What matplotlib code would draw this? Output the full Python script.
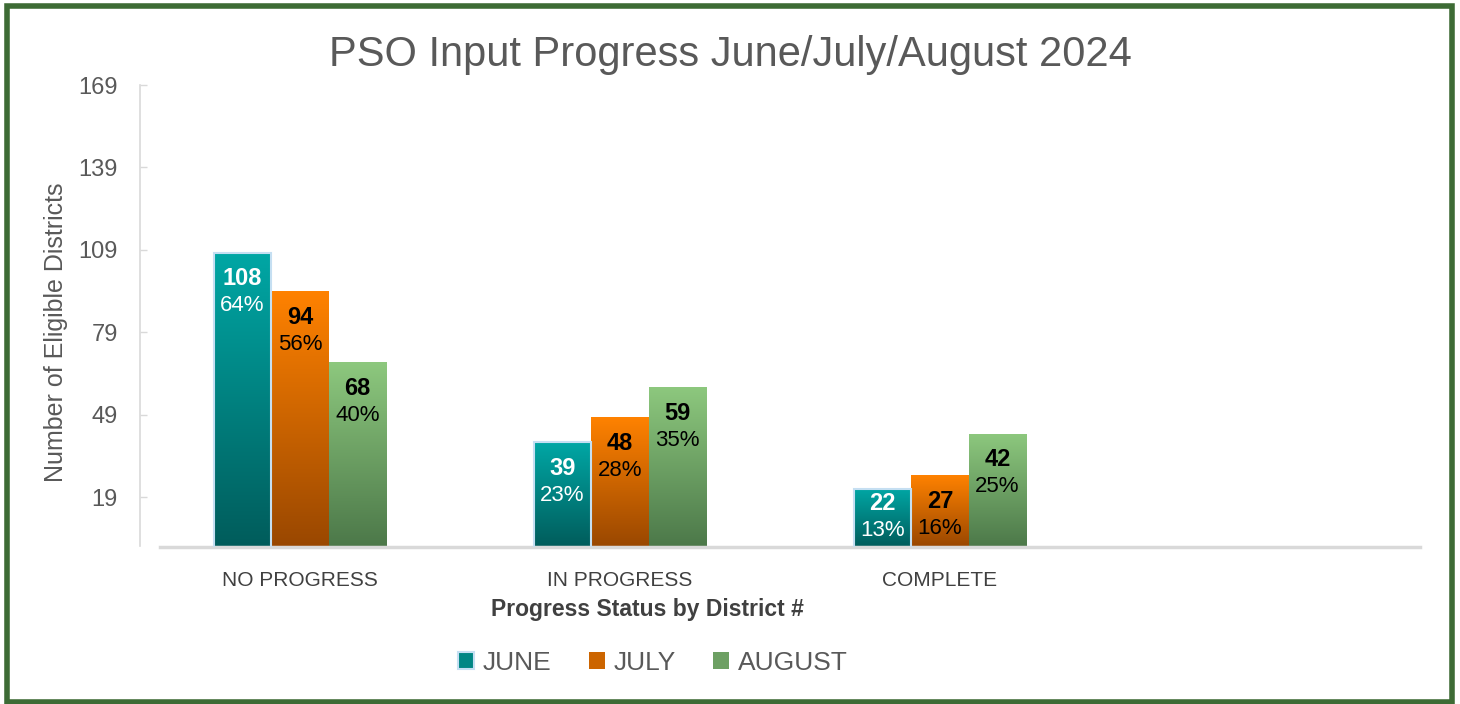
import matplotlib
matplotlib.use("Agg")
import matplotlib.pyplot as plt
import numpy as np
from matplotlib.colors import LinearSegmentedColormap
from matplotlib.patches import Rectangle, Patch

categories = ["NO PROGRESS", "IN PROGRESS", "COMPLETE", ""]
months = ["JUNE", "JULY", "AUGUST"]
june = [108, 39, 22]
july = [94, 48, 27]
august = [68, 59, 42]
june_pct = ["64%", "23%", "13%"]
july_pct = ["56%", "28%", "16%"]
august_pct = ["40%", "35%", "25%"]
yticks = [19, 49, 79, 109, 139, 169]

series = [june, july, august]
pcts = [june_pct, july_pct, august_pct]
# gradient colours, top -> bottom
grads = [("#00a7a5", "#005c5b"), ("#ff8200", "#994700"), ("#8dc87e", "#4c7849")]
mids = ["#008684", "#cc6500", "#6da063"]
label_colors = ["white", "black", "black"]

plt.rcParams['font.family'] = ['Liberation Sans', 'DejaVu Sans']
gray = "#595959"

fig = plt.figure(figsize=(14.6, 7.04), dpi=100)
ax = fig.add_axes([160 / 1460, 157 / 704, 1260 / 1460, 462 / 704])

width = 0.18
x = np.arange(len(categories))
ymin, ymax = 0.8, 169
ax.set_xlim(-0.4375, 3.5)
ax.set_ylim(ymin, ymax)
px_per_unit = 462 / (ymax - ymin)

for i, vals in enumerate(series):
    xs = x[:len(vals)] + (i - 1) * width
    bars = ax.bar(xs, vals, width, color="none",
                  edgecolor="#c5dff2" if i == 0 else "none",
                  linewidth=1.5 if i == 0 else 0, zorder=3)
    cmap = LinearSegmentedColormap.from_list("g%d" % i, [grads[i][1], grads[i][0]])
    for b, v, p in zip(bars, vals, pcts[i]):
        x0 = b.get_x()
        grad = np.linspace(0, 1, 256).reshape(-1, 1)
        im = ax.imshow(grad, cmap=cmap, origin="lower", aspect="auto",
                       extent=[x0, x0 + width, ymin, v], zorder=2)
        im.set_clip_path(b)
        cx = x0 + width / 2
        # keep both labels inside short bars
        h_px = (v - ymin) * px_per_unit
        pct_off = min(53, h_px - 17)
        val_off = pct_off - 27
        ax.annotate(str(v), (cx, v), xytext=(0, -val_off * 0.72), textcoords="offset points",
                    ha="center", va="center", fontsize=17, fontweight="bold",
                    color=label_colors[i], zorder=4)
        ax.annotate(p, (cx, v), xytext=(0, -pct_off * 0.72), textcoords="offset points",
                    ha="center", va="center", fontsize=16,
                    color=label_colors[i], zorder=4)

ax.set_xlim(-0.4375, 3.5)
ax.set_ylim(ymin, ymax)

for s in ["top", "right"]:
    ax.spines[s].set_visible(False)
ax.spines["left"].set_position(("outward", 14.4))
ax.spines["left"].set_color("#d9d9d9")
ax.spines["left"].set_linewidth(1.2)
ax.spines["left"].set_bounds(ymin + 0.5, ymax)
ax.spines["bottom"].set_color("#d9d9d9")
ax.spines["bottom"].set_linewidth(2.5)

ax.set_yticks(yticks)
ax.set_yticklabels([str(t) for t in yticks])
ax.tick_params(axis="y", direction="in", length=5, width=1, color="#d9d9d9",
               labelsize=17, labelcolor=gray, pad=16)
ax.set_xticks(x)
ax.set_xticklabels(categories)
ax.tick_params(axis="x", length=0, labelsize=15, labelcolor="#404040", pad=17)
ax.set_ylabel("Number of Eligible Districts", fontsize=18, color=gray)
ax.yaxis.set_label_coords(-0.073, 0.465)
ax.set_xlabel("Progress Status by District #", fontsize=16.5, color="#404040",
              fontweight="bold")
ax.xaxis.set_label_coords(0.387, -0.11)

fig.suptitle("PSO Input Progress June/July/August 2024", fontsize=30, color=gray,
             y=1 - 55 / 704, va="center")

handles = [Patch(facecolor=mids[i], edgecolor="#c5dff2" if i == 0 else mids[i],
                 linewidth=1.5 if i == 0 else 0) for i in range(3)]
fig.legend(handles, months, loc="center", bbox_to_anchor=(653 / 1460, 1 - 663 / 704),
           ncol=3, frameon=False, fontsize=19, labelcolor=gray,
           handlelength=0.6, handleheight=0.6, handletextpad=0.35, columnspacing=1.4)

fig.patches.append(Rectangle((7 / 1460, 2 / 704), 1445 / 1460, 696 / 704,
                             transform=fig.transFigure, fill=False,
                             edgecolor="#3d6b35", linewidth=4))

fig.savefig("out.png", dpi=100)
